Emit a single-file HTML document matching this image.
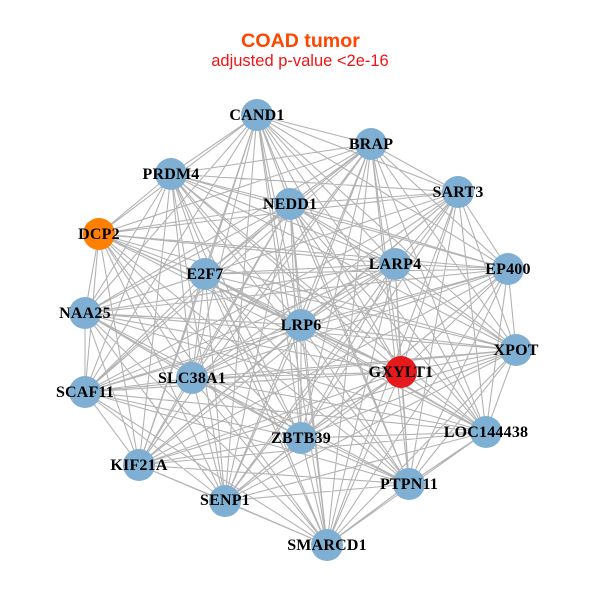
<!DOCTYPE html>
<html><head><meta charset="utf-8"><style>html,body{margin:0;padding:0;background:#fff}svg{display:block}
.n text{font:bold 16px "Liberation Serif",serif;letter-spacing:.2px;text-anchor:middle;fill:#000}</style></head><body>
<svg width="600" height="600" viewBox="0 0 600 600" xmlns="http://www.w3.org/2000/svg">
<rect width="600" height="600" fill="#fff"/>
<path fill="none" stroke="#b3b3b3" stroke-width="1.1" stroke-linejoin="round" d="
M257 115 371 144 257 115 458 192 257 115 508 269 257 115 516 350 257 115 486 432 257 115 409 484 257 115 327 545 257 115 225 501 257 115 139 465 257 115 85 392 257 115 85 313 257 115 99 234 257 115 171 174 257 115 290 204 257 115 205 274 257 115 395 264 257 115 301 325 257 115 192 378 257 115 401 372 257 115 301 438
M371 144 458 192 371 144 508 269 371 144 516 350 371 144 486 432 371 144 409 484 371 144 327 545 371 144 225 501 371 144 139 465 371 144 85 392 371 144 85 313 371 144 99 234 371 144 171 174 371 144 290 204 371 144 205 274 371 144 395 264 371 144 301 325 371 144 192 378 371 144 401 372 371 144 301 438
M458 192 508 269 458 192 516 350 458 192 486 432 458 192 409 484 458 192 327 545 458 192 225 501 458 192 139 465 458 192 85 392 458 192 85 313 458 192 99 234 458 192 171 174 458 192 290 204 458 192 205 274 458 192 395 264 458 192 301 325 458 192 192 378 458 192 401 372 458 192 301 438
M508 269 516 350 508 269 486 432 508 269 409 484 508 269 327 545 508 269 225 501 508 269 139 465 508 269 85 392 508 269 85 313 508 269 99 234 508 269 171 174 508 269 290 204 508 269 205 274 508 269 395 264 508 269 301 325 508 269 192 378 508 269 401 372 508 269 301 438
M516 350 486 432 516 350 409 484 516 350 327 545 516 350 225 501 516 350 139 465 516 350 85 392 516 350 85 313 516 350 99 234 516 350 171 174 516 350 290 204 516 350 205 274 516 350 395 264 516 350 301 325 516 350 192 378 516 350 401 372 516 350 301 438
M486 432 409 484 486 432 327 545 486 432 225 501 486 432 139 465 486 432 85 392 486 432 85 313 486 432 99 234 486 432 171 174 486 432 290 204 486 432 205 274 486 432 395 264 486 432 301 325 486 432 192 378 486 432 401 372 486 432 301 438
M409 484 327 545 409 484 225 501 409 484 139 465 409 484 85 392 409 484 85 313 409 484 99 234 409 484 171 174 409 484 290 204 409 484 205 274 409 484 395 264 409 484 301 325 409 484 192 378 409 484 401 372 409 484 301 438
M327 545 225 501 327 545 139 465 327 545 85 392 327 545 85 313 327 545 99 234 327 545 171 174 327 545 290 204 327 545 205 274 327 545 395 264 327 545 301 325 327 545 192 378 327 545 401 372 327 545 301 438
M225 501 139 465 225 501 85 392 225 501 85 313 225 501 99 234 225 501 171 174 225 501 290 204 225 501 205 274 225 501 395 264 225 501 301 325 225 501 192 378 225 501 401 372 225 501 301 438
M139 465 85 392 139 465 85 313 139 465 99 234 139 465 171 174 139 465 290 204 139 465 205 274 139 465 395 264 139 465 301 325 139 465 192 378 139 465 401 372 139 465 301 438
M85 392 85 313 85 392 99 234 85 392 171 174 85 392 290 204 85 392 205 274 85 392 395 264 85 392 301 325 85 392 192 378 85 392 401 372 85 392 301 438
M85 313 99 234 85 313 171 174 85 313 290 204 85 313 205 274 85 313 395 264 85 313 301 325 85 313 192 378 85 313 401 372 85 313 301 438
M99 234 171 174 99 234 290 204 99 234 205 274 99 234 395 264 99 234 301 325 99 234 192 378 99 234 401 372 99 234 301 438
M171 174 290 204 171 174 205 274 171 174 395 264 171 174 301 325 171 174 192 378 171 174 401 372 171 174 301 438
M290 204 205 274 290 204 395 264 290 204 301 325 290 204 192 378 290 204 401 372 290 204 301 438
M205 274 395 264 205 274 301 325 205 274 192 378 205 274 401 372 205 274 301 438
M395 264 301 325 395 264 192 378 395 264 401 372 395 264 301 438
M301 325 192 378 301 325 401 372 301 325 301 438
M192 378 401 372 192 378 301 438
M401 372 301 438"/>
<g fill="#7fb0d4">
<circle cx="257" cy="115" r="16"/><circle cx="371" cy="144" r="16"/><circle cx="458" cy="192" r="16"/><circle cx="508" cy="269" r="16"/><circle cx="516" cy="350" r="16"/><circle cx="486" cy="432" r="16"/><circle cx="409" cy="484" r="16"/><circle cx="327" cy="545" r="16"/><circle cx="225" cy="501" r="16"/><circle cx="139" cy="465" r="16"/><circle cx="85" cy="392" r="16"/><circle cx="85" cy="313" r="16"/><circle cx="171" cy="174" r="16"/><circle cx="290" cy="204" r="16"/><circle cx="205" cy="274" r="16"/><circle cx="395" cy="264" r="16"/><circle cx="301" cy="325" r="16"/><circle cx="192" cy="378" r="16"/><circle cx="301" cy="438" r="16"/>
<circle cx="99" cy="234" r="16" fill="#ff7f00"/><circle cx="401" cy="372" r="16" fill="#e41a1c"/>
</g>
<g class="n">
<text x="257" y="120">CAND1</text><text x="371" y="149">BRAP</text><text x="458" y="197">SART3</text><text x="508" y="274">EP400</text><text x="516" y="355">XPOT</text><text x="486" y="437">LOC144438</text><text x="409" y="489">PTPN11</text><text x="327" y="550">SMARCD1</text><text x="225" y="505">SENP1</text><text x="139" y="470">KIF21A</text><text x="85" y="397">SCAF11</text><text x="85" y="318">NAA25</text><text x="99" y="239">DCP2</text><text x="171" y="179">PRDM4</text><text x="290" y="209">NEDD1</text><text x="205" y="279">E2F7</text><text x="395" y="269">LARP4</text><text x="301" y="330">LRP6</text><text x="192" y="383">SLC38A1</text><text x="401" y="377">GXYLT1</text><text x="301" y="443">ZBTB39</text>
</g>
<text x="300.5" y="47" text-anchor="middle" font-family="Liberation Sans, sans-serif" font-weight="bold" font-size="19.6" fill="#ff4500">COAD tumor</text>
<text x="300" y="66" text-anchor="middle" font-family="Liberation Sans, sans-serif" font-size="16.5" fill="#f01414">adjusted p-value &lt;2e-16</text>
</svg>
</body></html>
